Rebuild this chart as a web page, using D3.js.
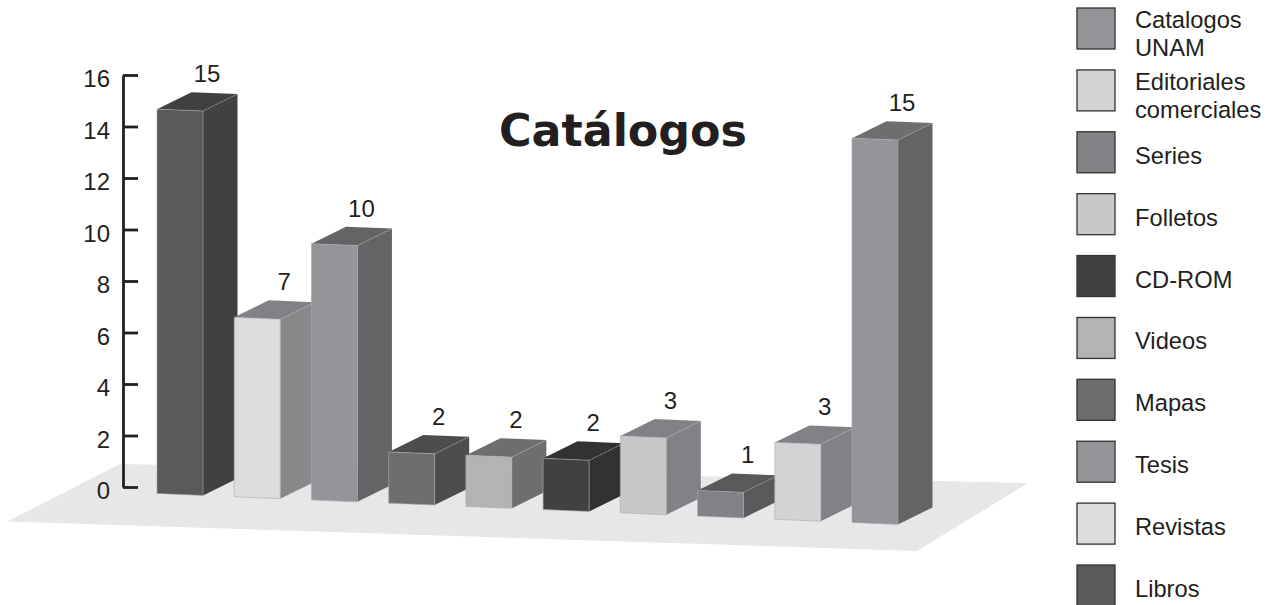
<!DOCTYPE html>
<html lang="es">
<head>
  <meta charset="UTF-8">
  <title>Catálogos</title>
  <script src="https://d3js.org/d3.v7.min.js"></script>
  <style>
    body { margin: 0; background: #fff; }
    svg { display: block; }
    text { font-family: "Liberation Sans", Arial, sans-serif; fill: #231f20; }
  </style>
</head>
<body>
<script type="text/javascript">
    var categories = ["Libros", "Revistas", "Tesis", "Mapas", "Videos", "CD-ROM", "Folletos", "Series", "Editoriales comerciales", "Catalogos UNAM"];
    var values = [15, 7, 10, 2, 2, 2, 3, 1, 3, 15];
    var yTicks = [0, 2, 4, 6, 8, 10, 12, 14, 16];
    var frontColors = ["#58595b", "#dcddde", "#939598", "#6d6e70", "#b1b3b5", "#414042", "#c7c8ca", "#808285", "#d1d3d4", "#939598"];
    var sideColors = ["#414141", "#87888a", "#636466", "#4d4d4f", "#6d6e70", "#333132", "#808285", "#58595b", "#808285", "#636466"];
    var topColors = ["#404040", "#808285", "#636466", "#4d4d4f", "#6d6e70", "#333132", "#808285", "#58595b", "#808285", "#6d6e70"];

    var barWidth = 46, depthX = 34.5, depthY = -17, floorSlope = 0.0417;

    var svg = d3.select("body").append("svg")
                               .attr("width", 1277)
                               .attr("height", 605);

    // floor
    svg.append("polygon")
       .attr("points", "7,521.5 120,464 1028,483 917,551")
       .attr("fill", "#e6e7e8");

    var x = d3.scalePoint().domain(categories).range([157, 852]);
    var yAxisScale = d3.scaleLinear().domain([0, 16]).range([487, 75]);
    var barHeight = d3.scaleLinear().domain([0, 16]).range([0, 410]);
    var baseY = d3.scaleLinear().domain([157, 852]).range([493.5, 522.5]);

    // axis, ticks point into the chart
    var axis = svg.append("g")
       .attr("transform", "translate(123,0)")
       .call(d3.axisRight(yAxisScale).tickValues(yTicks).tickSize(15).tickSizeOuter(0));
    axis.select(".domain").attr("stroke", "#231f20").attr("stroke-width", 2.8);
    axis.selectAll(".tick line").attr("stroke", "#231f20").attr("stroke-width", 2.8);
    axis.selectAll(".tick text")
        .attr("x", -13)
        .attr("dy", "11.5px")
        .attr("text-anchor", "end")
        .attr("fill", "#231f20")
        .style("font-size", "24px")
        .style("font-family", "'Liberation Sans', Arial, sans-serif");

    var rows = categories.map(function(c, i) {
      return {name: c, value: values[i], front: frontColors[i], side: sideColors[i], top: topColors[i]};
    });

    function path(pts) { return "M" + pts.map(function(p){ return p.join(","); }).join("L") + "Z"; }

    var bars = svg.selectAll("g.bar")
       .data(rows)
       .enter()
       .append("g")
       .attr("class", "bar");

    bars.each(function(d) {
      var g = d3.select(this);
      var x0 = x(d.name), x1 = x0 + barWidth;
      var b0 = baseY(x0), b1 = b0 + barWidth * floorSlope;
      var h = barHeight(d.value);
      var t0 = b0 - h, t1 = b1 - h;

      g.append("path")
       .attr("d", path([[x1, b1], [x1 + depthX, b1 + depthY], [x1 + depthX, t1 + depthY], [x1, t1]]))
       .attr("fill", d.side);
      g.append("path")
       .attr("d", path([[x0, t0], [x1, t1], [x1 + depthX, t1 + depthY], [x0 + depthX, t0 + depthY]]))
       .attr("fill", d.top);
      g.append("path")
       .attr("d", path([[x0, b0], [x1, b1], [x1, t1], [x0, t0]]))
       .attr("fill", d.front)
       .attr("stroke", "#a7a9ac")
       .attr("stroke-width", 0.6);
      // light dotted edge between top and side
      g.append("line")
       .attr("x1", x1).attr("y1", t1)
       .attr("x2", x1 + depthX).attr("y2", t1 + depthY)
       .attr("stroke", "#bcbec0")
       .attr("stroke-width", 0.6)
       .attr("stroke-dasharray", "1.5 1.5");
      g.append("text")
       .attr("x", x0 + 50)
       .attr("y", t0 - 27)
       .attr("text-anchor", "middle")
       .style("font-size", "24px")
       .text(d.value);
    });

    // title
    svg.append("text")
       .attr("x", 499)
       .attr("y", 146)
       .attr("textLength", 248)
       .attr("lengthAdjust", "spacingAndGlyphs")
       .style("font-family", "'DejaVu Sans', sans-serif")
       .style("font-weight", "bold")
       .style("font-size", "44px")
       .text("Catálogos");

    // legend runs the other way round
    var legendY = d3.scalePoint().domain(categories.slice().reverse()).range([8, 565]);

    var legend = svg.selectAll("g.legend")
       .data(rows)
       .enter()
       .append("g")
       .attr("class", "legend")
       .attr("transform", function(d){ return "translate(1077," + legendY(d.name) + ")"; });

    legend.append("rect")
       .attr("width", 38)
       .attr("height", 41)
       .attr("fill", function(d){ return d.front; })
       .attr("stroke", "#333132")
       .attr("stroke-width", 1.3);

    legend.each(function(d) {
      var words = d.name.split(" ");
      var first = words.length > 1 ? 20 : 32;
      d3.select(this).selectAll("text")
        .data(words)
        .enter()
        .append("text")
        .attr("x", 58)
        .attr("y", function(w, i){ return first + i * 28; })
        .style("font-size", "23.7px")
        .text(function(w){ return w; });
    });
</script>
</body>
</html>
